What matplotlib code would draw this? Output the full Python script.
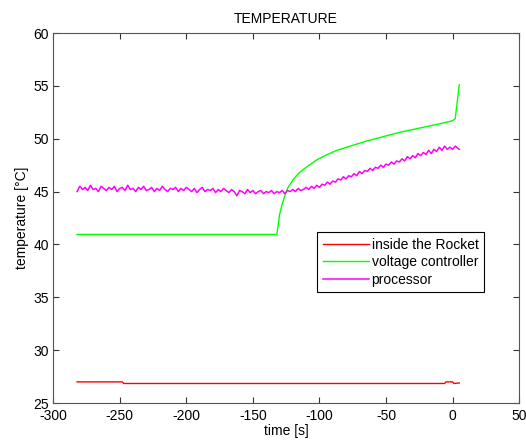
import matplotlib
matplotlib.use("Agg")
import matplotlib.pyplot as plt

# inside the Rocket
red_t = [-282, -248, -247, -6, -5, 0, 1, 5]
red_v = [27.0, 27.0, 26.85, 26.85, 27.0, 27.0, 26.85, 26.9]

# voltage controller
green_t = [-282, -132, -131, -130, -128, -126, -124, -120, -115, -110, -102, -95,
           -88, -77, -64, -52, -40, -25, -10, 0, 2, 5]
green_v = [40.95, 40.95, 41.8, 42.8, 43.8, 44.6, 45.3, 46.1, 46.8, 47.3, 48.0, 48.45,
           48.85, 49.3, 49.8, 50.2, 50.6, 51.0, 51.4, 51.7, 51.9, 55.1]

# processor (noisy readout, sampled every 2 s)
proc_t = list(range(-282, 5, 2)) + [5]
proc_v = [45.0, 45.5, 45.2, 45.4, 45.1, 45.6, 45.2, 45.3, 45.0, 45.5,
          45.3, 45.1, 45.4, 45.2, 45.5, 45.0, 45.3, 45.4, 45.1, 45.6,
          45.2, 45.3, 45.0, 45.4, 45.2, 45.5, 45.1, 45.2, 45.4, 45.0,
          45.3, 45.1, 45.5, 45.2, 45.0, 45.3, 45.2, 45.4, 45.0, 45.3,
          45.1, 45.4, 45.2, 45.0, 45.3, 44.9, 45.2, 45.4, 45.0, 45.2,
          45.1, 45.3, 44.9, 45.2, 45.0, 45.3, 45.1, 44.9, 45.2, 45.0,
          44.6, 45.1, 45.0, 44.8, 45.2, 44.9, 45.1, 44.8, 45.0, 45.1,
          44.8, 45.0, 44.9, 45.1, 44.8, 45.0, 44.9, 45.1, 44.8, 45.1,
          45.0, 45.2, 45.0, 45.3, 45.1, 45.2, 45.4, 45.2, 45.5, 45.3,
          45.6, 45.4, 45.7, 45.6, 45.9, 45.7, 46.0, 45.9, 46.2, 46.1,
          46.4, 46.2, 46.5, 46.4, 46.7, 46.5, 46.9, 46.7, 47.0, 46.9,
          47.2, 47.0, 47.3, 47.2, 47.5, 47.3, 47.6, 47.5, 47.8, 47.6,
          47.9, 47.8, 48.1, 47.9, 48.3, 48.1, 48.4, 48.2, 48.6, 48.4,
          48.7, 48.5, 48.9, 48.6, 49.0, 48.8, 49.2, 48.9, 49.3, 49.0,
          49.2, 49.0, 49.3, 49.1, 49.0]

x_ticks = [-300, -250, -200, -150, -100, -50, 0, 50]
y_ticks = [25, 30, 35, 40, 45, 50, 55, 60]

plt.rcParams["font.family"] = ["Liberation Sans", "DejaVu Sans"]
plt.rcParams["font.size"] = 10
plt.rcParams["axes.unicode_minus"] = False

fig = plt.figure(figsize=(5.26, 4.4), dpi=100)
ax = fig.add_axes([0.101, 0.084, 0.886, 0.841])

ax.plot(red_t, red_v, color="#ff0000", lw=1, label="inside the Rocket")
ax.plot(green_t, green_v, color="#00ff00", lw=1, label="voltage controller")
ax.plot(proc_t, proc_v, color="#ff00ff", lw=1.1, label="processor")

ax.set_xlim(-300, 50)
ax.set_ylim(25, 60)
ax.set_xticks(x_ticks)
ax.set_yticks(y_ticks)
ax.tick_params(direction="in", length=4, top=True, right=True, colors="#333333",
               labelcolor="black", labelsize=10)
ax.tick_params(axis="x", pad=4)
ax.tick_params(axis="y", pad=3)
for s in ax.spines.values():
    s.set_color("#555555")

ax.set_title("TEMPERATURE", fontsize=10, pad=7)
ax.set_xlabel("time [s]", fontsize=10, labelpad=1)
ax.set_ylabel("temperature [°C]", fontsize=10, labelpad=3)

leg = ax.legend(loc="upper left", bbox_to_anchor=(0.567, 0.462), borderaxespad=0,
                fancybox=False, edgecolor="black", framealpha=1, handlelength=3.3,
                borderpad=0.4, labelspacing=0.25, handletextpad=0.2, fontsize=10)
leg.get_frame().set_linewidth(0.8)

fig.savefig("out.png", dpi=100)
